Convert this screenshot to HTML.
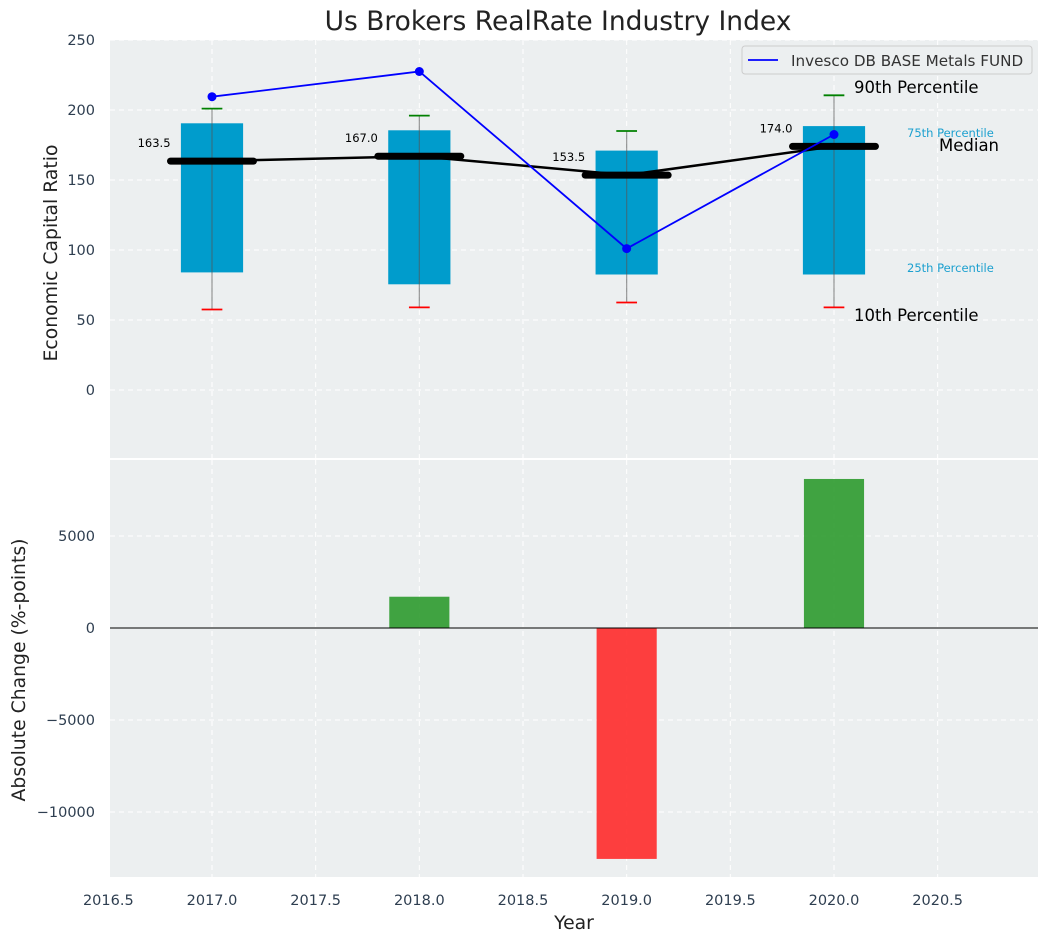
<!DOCTYPE html>
<html><head><meta charset="utf-8"><style>
body{margin:0;background:#fff;}
svg{display:block;font-family:"DejaVu Sans","Liberation Sans",sans-serif;}
</style></head><body>
<svg id="c" width="1048" height="942" viewBox="0 0 1048 942"></svg>
<script>
const years=[2017,2018,2019,2020];
const p10=[57.5,59,62.5,59];
const p25=[84,75.5,82.5,82.5];
const p50=[163.5,167,153.5,174];
const p75=[190.5,185.5,171,188.5];
const p90=[201,196,185,210.5];
const fund=[209.5,227.5,101,182.5];
const changes=[0,1700,-12550,8100];
const xTicks=[2016.5,2017,2017.5,2018,2018.5,2019,2019.5,2020,2020.5];
const yTicksTop=[0,50,100,150,200,250];
const yTicksBot=[-10000,-5000,0,5000];

const NS="http://www.w3.org/2000/svg";
const svg=document.getElementById('c');
function el(t,a,p){const e=document.createElementNS(NS,t);for(const k in a)e.setAttribute(k,a[k]);(p||svg).appendChild(e);return e;}
const X0=110,X1=1038;
const xs=v=>212+(v-2017)*207.33;
const T0=40,T1=458; const yt=v=>390-v*1.4;
const B0=460,B1=877; const yb=v=>628-v*0.0184;

const pt=el('rect',{x:X0,y:T0,width:X1-X0,height:T1-T0,fill:'#eceff0'});

const pb=el('rect',{x:X0,y:B0,width:X1-X0,height:B1-B0,fill:'#eceff0'});


xTicks.forEach(v=>{
 [[T0,T1],[B0,B1]].forEach(r=>{const g=el('line',{x1:xs(v),x2:xs(v),y1:r[0],y2:r[1],stroke:'#fff','stroke-dasharray':'5,4','stroke-width':1});
 });
 const t=el('text',{x:xs(v),y:905,'text-anchor':'middle','font-size':14.5,fill:'#2e3e50'});t.textContent=v.toFixed(1);
 
});
yTicksTop.forEach(v=>{
 const g=el('line',{x1:X0,x2:X1,y1:yt(v),y2:yt(v),stroke:'#fff','stroke-dasharray':'5,4'});
 
 const t=el('text',{x:95,y:yt(v)+5,'text-anchor':'end','font-size':14.5,fill:'#2e3e50'});t.textContent=v;
 
});
yTicksBot.forEach(v=>{
 const g=el('line',{x1:X0,x2:X1,y1:yb(v),y2:yb(v),stroke:'#fff','stroke-dasharray':'5,4'});
 
 const t=el('text',{x:95,y:yb(v)+5,'text-anchor':'end','font-size':14.5,fill:'#2e3e50'});t.textContent=v<0?'\u2212'+Math.abs(v):v;
 
});

years.forEach((y,i)=>{
 const b=el('rect',{x:xs(y-0.15),y:yt(p75[i]),width:xs(y+0.15)-xs(y-0.15),height:yt(p25[i])-yt(p75[i]),fill:'#009ccc'});
 
 const w=el('line',{x1:xs(y),x2:xs(y),y1:yt(p90[i]),y2:yt(p10[i]),stroke:'#555','stroke-opacity':0.6,'stroke-width':1.2});
 
 const c1=el('line',{x1:xs(y-0.05),x2:xs(y+0.05),y1:yt(p90[i]),y2:yt(p90[i]),stroke:'green','stroke-width':1.8});
 
 const c2=el('line',{x1:xs(y-0.05),x2:xs(y+0.05),y1:yt(p10[i]),y2:yt(p10[i]),stroke:'red','stroke-width':1.8});
 
});
let d='';years.forEach((y,i)=>{d+=(i?'L':'M')+xs(y)+','+yt(p50[i]);});
const ml=el('path',{d:d,fill:'none',stroke:'#000','stroke-width':2.5});

years.forEach((y,i)=>{
 const m=el('line',{x1:xs(y-0.2),x2:xs(y+0.2),y1:yt(p50[i]),y2:yt(p50[i]),stroke:'#000','stroke-width':7,'stroke-linecap':'round'});
 
 const t=el('text',{x:xs(y-0.2),y:yt(p50[i])-14,'text-anchor':'end','font-size':11.5,fill:'#000'});t.textContent=p50[i].toFixed(1);
 
});
d='';years.forEach((y,i)=>{d+=(i?'L':'M')+xs(y)+','+yt(fund[i]);});
const fl=el('path',{d:d,fill:'none',stroke:'#0000ff','stroke-width':1.8});

years.forEach((y,i)=>{const c=el('circle',{cx:xs(y),cy:yt(fund[i]),r:4.5,fill:'#0000ff'});
 });

[['90th Percentile',854,93,16.5,'#000'],['75th Percentile',907,137,11.5,'#1ca0cf'],['Median',939,151,16.5,'#000'],['25th Percentile',907,272,11.5,'#1ca0cf'],['10th Percentile',854,321,16.5,'#000']].forEach(a=>{
 const t=el('text',{x:a[1],y:a[2],'font-size':a[3],fill:a[4]});t.textContent=a[0];
 
});

const lg=el('g',{});
el('rect',{x:742,y:46,width:290,height:28,rx:3,fill:'#eceff0',stroke:'#ccc'},lg);
el('line',{x1:748,x2:778,y1:60,y2:60,stroke:'#0000ff','stroke-width':1.8},lg);
const lt=el('text',{x:791,y:66,'font-size':15.2,fill:'#333'},lg);lt.textContent='Invesco DB BASE Metals FUND';

years.forEach((y,i)=>{
 const v=changes[i];if(v===0)return;
 const b=el('rect',{x:xs(y-0.145),y:Math.min(yb(v),yb(0)),width:xs(y+0.145)-xs(y-0.145),height:Math.abs(yb(v)-yb(0)),fill:v>0?'#2e9a2e':'#ff2a2a','fill-opacity':0.9});
 
});
const zl=el('line',{x1:X0,x2:X1,y1:yb(0),y2:yb(0),stroke:'#000','stroke-width':1});


const tt=el('text',{x:558,y:30,'text-anchor':'middle','font-size':26.5,fill:'#222'});tt.textContent='Us Brokers RealRate Industry Index';

const y1=el('text',{x:57,y:253,'text-anchor':'middle','font-size':18.8,fill:'#222',transform:'rotate(-90 57 253)'});y1.textContent='Economic Capital Ratio';

const y2=el('text',{x:25,y:670,'text-anchor':'middle','font-size':18.8,fill:'#222',transform:'rotate(-90 25 670)'});y2.textContent='Absolute Change (%-points)';

const xt=el('text',{x:574,y:929,'text-anchor':'middle','font-size':18.8,fill:'#222'});xt.textContent='Year';

</script>
</body></html>
